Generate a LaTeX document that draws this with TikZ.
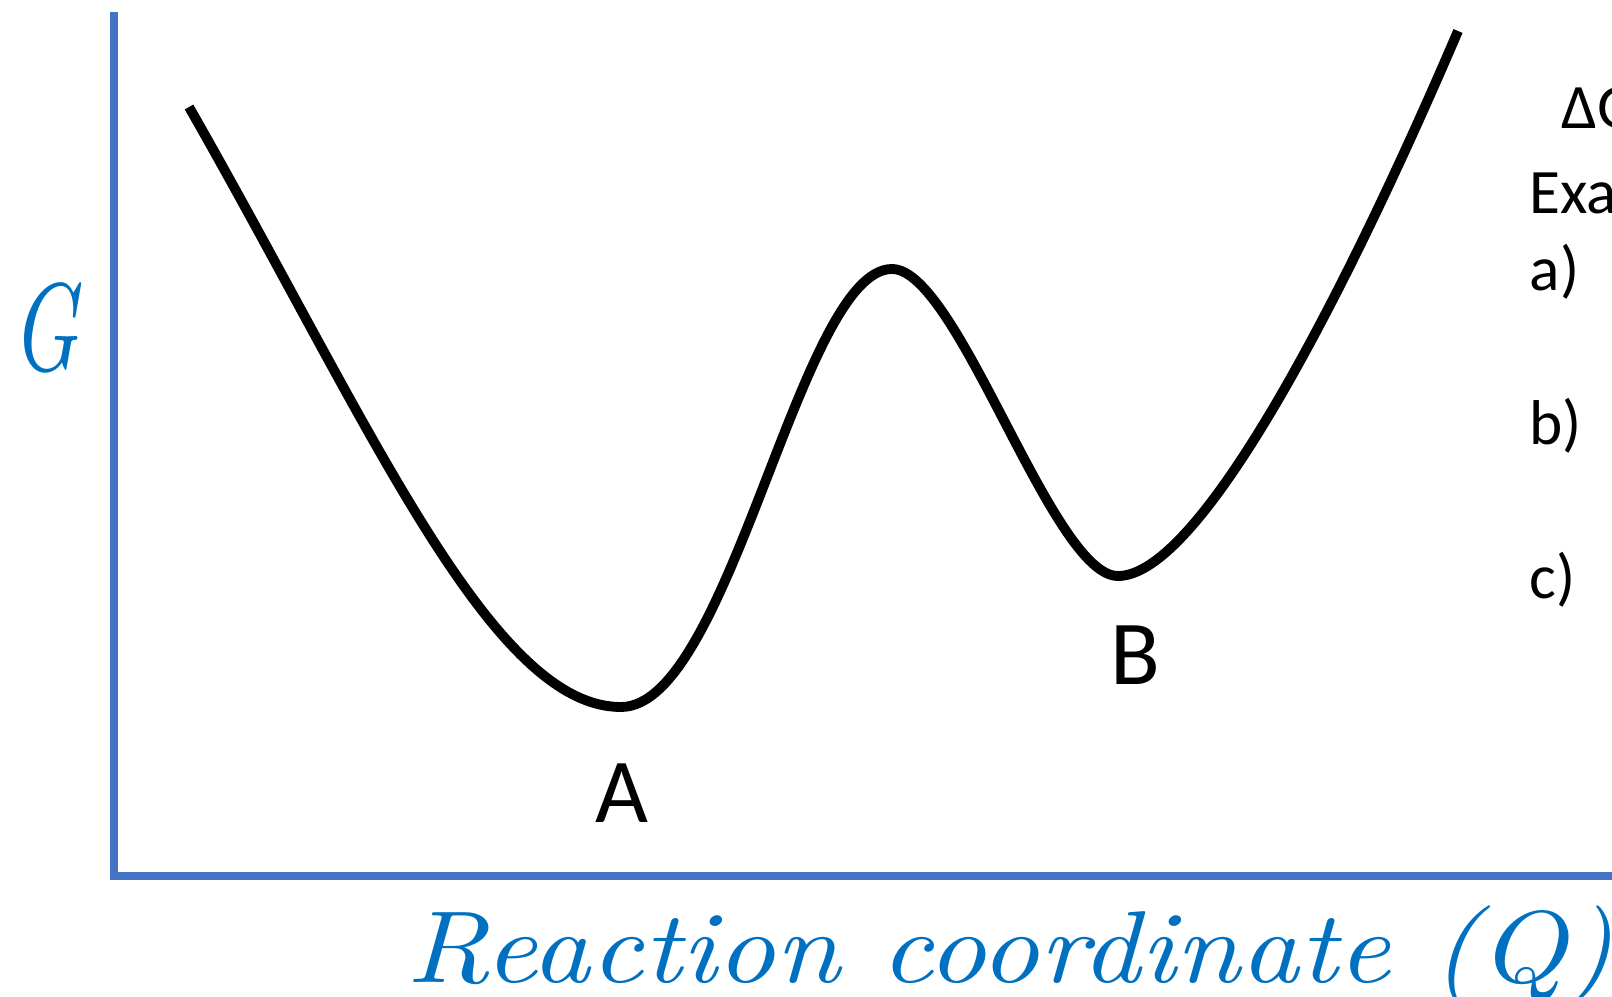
\documentclass[tikz,border=0pt]{standalone}
\usepackage{fontspec}
\newfontfamily\calibri{Carlito}
\definecolor{axisblue}{HTML}{4472C4}
\definecolor{labelblue}{HTML}{0070C0}
\tikzset{
  axis/.style={draw=axisblue, line width=2.3pt},
  energy/.style={draw=black, line width=2.8pt},
  state/.style={font=\calibri\fontsize{26}{26}\selectfont, inner sep=0pt, anchor=base},
  note/.style={font=\calibri\fontsize{18}{18}\selectfont, inner sep=0pt, anchor=base west},
  axlbl/.style={text=labelblue, inner sep=0pt, font=\itshape}
}

\begin{document}
\begin{tikzpicture}[x=0.01cm, y=-0.01cm]
  \clip (0,0) rectangle (1612,997);
  % --- axes -------------------------------------------------------------
  \coordinate (top) at (114,12);
  \coordinate (origin) at (114,876);
  \coordinate (far) at (1630,876);
  \draw[axis] (top) -- (origin) -- (far);

  \node[axlbl, anchor=base west] (xlbl) at (406,982)
    {\resizebox{343pt}{21.8pt}{Reaction coordinate (Q)}};
  \node[axlbl] (ylbl) at (45,328) {\resizebox{19pt}{25pt}{G}};

  % --- free energy profile ----------------------------------------------
  \coordinate (start) at (189,107);
  \coordinate (wellA) at (621,707);
  \coordinate (barrier) at (892,269);
  \coordinate (wellB) at (1118,576);
  \coordinate (stop) at (1458,31);
  \draw[energy] (start) .. controls (369,422) and (490,707) .. (wellA)
    .. controls (730,707) and (800,269) .. (barrier)
    .. controls (958,269) and (1052,576) .. (wellB)
    .. controls (1198,576) and (1338,311) .. (stop);

  \node[state] (minA) at (622,822) {A};
  \node[state] (minB) at (1135,684) {B};

  % --- notes (cut at the right edge) -------------------------------------
  \node[note] (dG) at (1561,129) {ΔG};
  \node[note] (ex) at (1529,214) {Example};
  \node[note] (qa) at (1529,291) {a)};
  \node[note] (qb) at (1529,444) {b)};
  \node[note] (qc) at (1529,598) {c)};
\end{tikzpicture}
\end{document}
